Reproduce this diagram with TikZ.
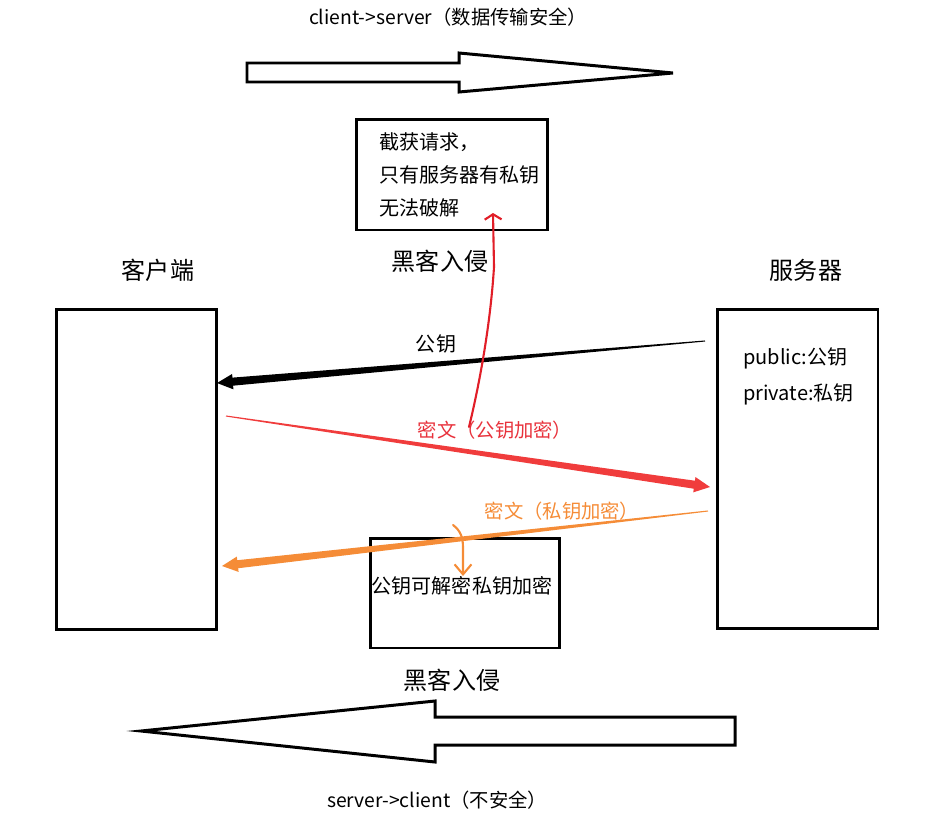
\documentclass[tikz,border=0pt]{standalone}
\usepackage{fontspec}
\setmainfont{Noto Sans CJK SC}
\usetikzlibrary{calc, arrows.meta, positioning}

\definecolor{redline}{RGB}{240,60,60}
\definecolor{redtxt}{RGB}{232,50,60}
\definecolor{handred}{RGB}{225,30,40}
\definecolor{orangeline}{RGB}{245,140,55}

% tapered arrow: thin at the start, wide at the end
\newcommand{\taperarrow}[3][black]{%
  \coordinate (hb) at ($(#3)!9pt!(#2)$);
  \fill[#1] ($(#2)!0.3pt!90:(#3)$) -- ($(hb)!2.3pt!-90:(#2)$) -- ($(hb)!4.4pt!-90:(#2)$)
    -- (#3) -- ($(hb)!4.4pt!90:(#2)$) -- ($(hb)!2.3pt!90:(#2)$) -- ($(#2)!0.3pt!-90:(#3)$) -- cycle;}

\begin{document}
\begin{tikzpicture}[x=0.02cm, y=-0.02cm,
  box/.style={draw, line width=1.7pt, inner sep=0pt},
  txt/.style={font=\fontsize{11.4}{18.8}\selectfont},
  bigtxt/.style={font=\fontsize{13.7}{18}\selectfont},
  smalltxt/.style={font=\fontsize{11}{14}\selectfont},
  hollow/.style={draw, line width=1.7pt, line join=miter},
  hand/.style={line width=1.2pt, line cap=round}]
\useasboundingbox (0,0) rectangle (925,835);

% oben: client -> server
\node[smalltxt] (title) at (448,17) {client->server（数据传输安全）};
\draw[hollow] (247,63) -- (459,63) -- (459,53) -- (673,73) -- (459,92) -- (459,82) -- (247,82) -- cycle;

\node[box, minimum width=3.84cm, minimum height=2.22cm] (intercept) at (452,174.5) {};
\node[txt, align=left, anchor=west] (intercepttxt) at (373,175) {截获请求，\\只有服务器有私钥\\无法破解};
\node[bigtxt] (hacker1) at (440,261) {黑客入侵};

% client / server
\node[bigtxt] (clientlbl) at (158,270) {客户端};
\node[bigtxt] (serverlbl) at (806,270) {服务器};
\node[box, minimum width=3.22cm, minimum height=6.42cm] (client) at (136.5,469.5) {};
\node[box, minimum width=3.22cm, minimum height=6.40cm] (server) at (797.5,469) {};
\node[align=left, anchor=west, font=\fontsize{11.4}{20.4}\selectfont] (keys) at (737,376) {public:公钥\\private:私钥};

% public key
\coordinate (pubS) at (705,341);
\coordinate (pubC) at (217,383);
\taperarrow{pubS}{pubC}
\node[txt] (publbl) at (436,344) {公钥};

% encrypted with public key
\coordinate (encC) at (226,416);
\coordinate (encS) at (710,487);
\taperarrow[redline]{encC}{encS}
\node[smalltxt, text=redtxt] (enclbl) at (495,430) {密文（公钥加密）};

% box below
\node[box, minimum width=3.8cm, minimum height=2.2cm] (decrypt) at (465,593) {};
\node[txt] (decrypttxt) at (462,586) {公钥可解密私钥加密};

% encrypted with private key
\coordinate (sigS) at (708,511);
\coordinate (sigC) at (222,566);
\taperarrow[orangeline]{sigS}{sigC}
\node[smalltxt, text=orangeline] (siglbl) at (562,511) {密文（私钥加密）};

% hand drawn arrows
\coordinate (tapS) at (469,427);
\coordinate (tapE) at (493,213);
\draw[hand, handred, -{Straight Barb[length=3pt,width=9.6pt]}] (tapS) .. controls (478,390) and (490,330) .. (494,267) -- (tapE);
\coordinate (hookS) at (453,525);
\coordinate (hookE) at (463,576);
\draw[hand, orangeline, -{Straight Barb[length=5.7pt,width=9.6pt]}] (hookS) .. controls (461,531) and (463,538) .. (463,548) -- (hookE);

% unten: server -> client
\node[bigtxt] (hacker2) at (452,680) {黑客入侵};
\draw[hollow] (735,717) -- (435,717) -- (435,701) -- (141,731) -- (435,762) -- (435,745) -- (735,745) -- cycle;
\node[smalltxt] (footer) at (437,800) {server->client（不安全）};
\end{tikzpicture}
\end{document}
